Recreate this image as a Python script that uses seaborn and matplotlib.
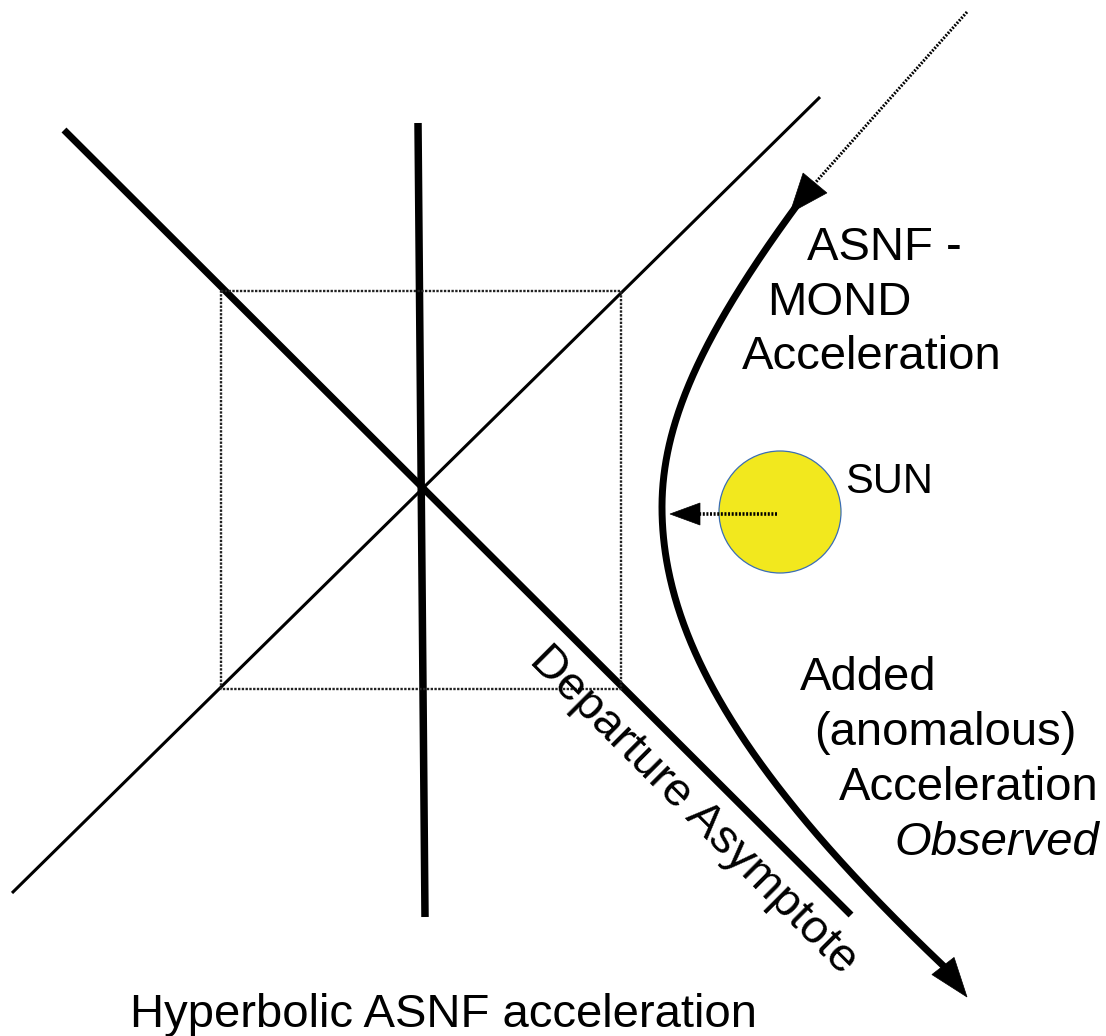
import numpy as np
import matplotlib.pyplot as plt
import seaborn as sns
from matplotlib.patches import Circle, Polygon

# Everything is in picture pixels, y grows downwards
asym_thick_x = [64, 851]
asym_thick_y = [130, 915]
asym_thin_x = [12, 820]
asym_thin_y = [893, 97]
axis_x = [418, 425]
axis_y = [123, 917]
box_x = [221, 621, 621, 221, 221]
box_y = [291, 291, 689, 689, 291]

# hyperbolic path: vertex, then (a, b) for each half
vertex_x, vertex_y = 662, 507
upper_a, upper_b = 241, 252
lower_a, lower_b = 700, 467
path_y_top, path_y_bottom = 198, 972

# incoming path (dotted) and arrow heads: tip, base, width
incoming_x = [967, 815]
incoming_y = [12, 183]
heads = [((790, 213), (815, 183), 31),
         ((967, 997), (943, 966), 28),
         ((670, 514), (700, 514), 22)]

sun_center = (780, 512)
sun_radius = 61
sun_arrow_x = [777, 700]
sun_arrow_y = [514, 514]

labels = [("ASNF -", 807, 260, 34, "normal"),
          ("MOND", 767, 315, 34, "normal"),
          ("Acceleration", 742, 369, 34, "normal"),
          ("SUN", 845, 493, 30, "normal"),
          ("Added", 800, 690, 34, "normal"),
          ("(anomalous)", 814, 745, 34, "normal"),
          ("Acceleration", 839, 800, 34, "normal"),
          ("Observed", 894, 855, 34, "italic"),
          ("Hyperbolic ASNF acceleration", 130, 1027, 34, "normal")]
slanted_label = ("Departure Asymptote", 693, 810, -45)

sns.set_theme(style="white")
plt.rcParams['font.family'] = ['Liberation Sans', 'DejaVu Sans']
plt.rcParams['text.color'] = 'black'

fig = plt.figure(figsize=(11.06, 10.36), dpi=100)
ax = fig.add_axes([0, 0, 1, 1])
ax.set_xlim(0, 1106)
ax.set_ylim(1036, 0)
ax.axis('off')

# asymptotes, axis and the dotted box
ax.plot(asym_thick_x, asym_thick_y, color='black', lw=5, solid_capstyle='butt')
ax.plot(asym_thin_x, asym_thin_y, color='black', lw=2.2, solid_capstyle='butt')
ax.plot(axis_x, axis_y, color='black', lw=5.4, solid_capstyle='butt')
ax.plot(box_x, box_y, color='#222222', lw=1.7, ls=(0, (1, 0.6)))

# the path: two hyperbolic halves meeting at the vertex
yy = np.linspace(path_y_top, path_y_bottom, 500)
a = np.where(yy < vertex_y, upper_a, lower_a)
b = np.where(yy < vertex_y, upper_b, lower_b)
xx = vertex_x + a * (np.sqrt(1 + ((yy - vertex_y) / b) ** 2) - 1)
ax.plot(xx, yy, color='black', lw=5, solid_capstyle='butt')

ax.plot(incoming_x, incoming_y, color='black', lw=2.2, ls=(0, (0.6, 0.5)))

# sun and its pull
ax.add_patch(Circle(sun_center, sun_radius, facecolor='#f2e81e',
                    edgecolor='#3b6eb4', lw=0.9, zorder=3))
ax.plot(sun_arrow_x, sun_arrow_y, color='black', lw=2.6, ls=(0, (0.55, 0.45)), zorder=4)

for tip, base, width in heads:
    tip = np.array(tip, float)
    base = np.array(base, float)
    d = tip - base
    n = np.array([-d[1], d[0]]) / np.hypot(*d) * width / 2
    ax.add_patch(Polygon([tip, base + n, base - n], closed=True,
                         facecolor='black', edgecolor='black', lw=0.5, zorder=5))

for text, x, y, size, style in labels:
    ax.text(x, y, text, fontsize=size, style=style, ha='left', va='baseline',
            color='black')

text, x, y, angle = slanted_label
ax.text(x, y, text, fontsize=34, rotation=angle, rotation_mode='anchor',
        ha='center', va='center', color='black')

fig.savefig('out.png', dpi=100)
